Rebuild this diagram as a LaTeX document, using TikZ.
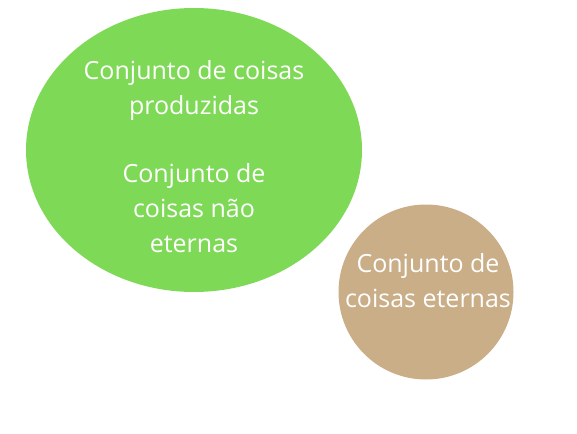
\documentclass[tikz,border=0pt]{standalone}
\usepackage{fontspec}
\setmainfont{Open Sans}
\usetikzlibrary{shapes.geometric,positioning}

\definecolor{setgreen}{HTML}{7ED957}
\definecolor{settan}{HTML}{C9AE88}

\tikzset{
  setshape/.style={draw=none, inner sep=0pt},
  settext/.style={text=white, align=center, inner sep=0pt,
    font=\fontsize{25pt}{35pt}\selectfont}
}

\begin{document}
\begin{tikzpicture}[x=1pt, y=-1pt]
  \useasboundingbox (0,0) rectangle (577,433);
  % Define sets
  \node[setshape, ellipse, fill=setgreen, minimum width=336pt, minimum height=284pt] (prod) at (194,150) {};
  \node[setshape, circle,  fill=settan,   minimum size=175pt]                        (etern) at (426,292) {};

  % Labels
  \node[settext] (prodlbl)  at (194,90.5) {Conjunto de coisas\\produzidas};
  \node[settext] (naolbl)   at (194,208)  {Conjunto de\\coisas não\\eternas};
  \node[settext] (eternlbl) at (428,280.5) {Conjunto de\\coisas eternas};
\end{tikzpicture}
\end{document}
